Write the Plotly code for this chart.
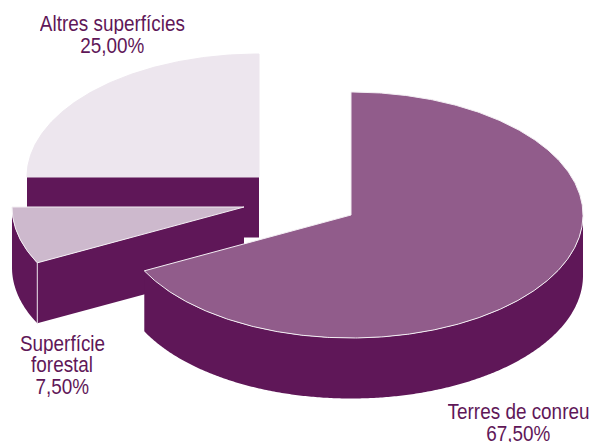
import numpy as np
import plotly.graph_objects as go

categories = ["Terres de conreu", "Superfície forestal", "Altres superfícies"]
label_lines = [["Terres de conreu", "67,50%"], ["Superfície", "forestal", "7,50%"], ["Altres superfícies", "25,00%"]]
values = [67.5, 7.5, 25.0]
face_colors = ["#915c8b", "#cdb9cd", "#ede6ee"]
edge_colors = ["#f3eef3", "#f3eef3", "#ede6ee"]
wall_color = "#5f1758"

W, H = 589, 442
RX, RY, DEPTH = 232.0, 123.0, 60.5
centres = [(351.0, 215.0), (244.0, 207.0), (259.0, 177.0)]
label_pos = [(518, 433), (62, 386), (112, 45)]
FONT = "Liberation Sans, Arial, sans-serif"
FONT_SIZE = 22
LINE_GAP = 21.5
NARROW = 0.86


def pt(c, deg, dz=0.0):
    t = np.radians(deg)
    return c[0] + RX * np.sin(t), c[1] - RY * np.cos(t) + dz


def arc(c, a0, a1, dz=0.0):
    n = max(2, int(abs(a1 - a0) * 2))
    a = np.linspace(a0, a1, n)
    x, y = pt(c, a, dz)
    return list(x), list(y)


fig = go.Figure()


def poly(xs, ys, fill, line=None, width=0.0):
    fig.add_trace(go.Scatter(
        x=xs + xs[:1], y=ys + ys[:1], mode="lines" if line else "none",
        fill="toself", fillcolor=fill,
        line=dict(color=line or fill, width=width), hoverinfo="skip", showlegend=False))


# angle range of each slice, clockwise from 12 o'clock
edges = np.concatenate([[0], np.cumsum(values)]) / sum(values) * 360
order = [2, 1, 0]  # back to front
for i in order:
    c, a0, a1 = centres[i], float(edges[i]), float(edges[i + 1])
    # radial wall that faces the viewer
    if 180 < a0 < 360:
        ex, ey = pt(c, a0)
        poly([c[0], float(ex), float(ex), c[0]],
             [c[1], float(ey), float(ey) + DEPTH, c[1] + DEPTH], wall_color)
    # outer rim on the front half
    f0, f1 = max(a0, 90.0), min(a1, 270.0)
    if f1 > f0:
        ux, uy = arc(c, f0, f1)
        lx, ly = arc(c, f1, f0, DEPTH)
        poly(ux + lx, uy + ly, wall_color)
    # visible vertical edge where the radial wall meets the rim
    if 180 < a0 < 270:
        ex, ey = pt(c, a0)
        fig.add_trace(go.Scatter(x=[float(ex)] * 2, y=[float(ey), float(ey) + DEPTH], mode="lines",
                                 line=dict(color="#e6dce6", width=1), hoverinfo="skip", showlegend=False))
    # top face
    x, y = arc(c, a0, a1)
    poly([c[0]] + x, [c[1]] + y, face_colors[i], edge_colors[i], 1.0)

for lines, (lx, ly) in zip(label_lines, label_pos):
    n = len(lines)
    for k, t in enumerate(lines):
        fig.add_annotation(x=lx, y=ly - (n - 1 - k) * LINE_GAP, text=t, showarrow=False,
                           xanchor="center", yanchor="middle", height=21,
                           font=dict(family=FONT, size=FONT_SIZE, color="#5f1758"))

fig.update_xaxes(range=[0, W], visible=False, fixedrange=True)
fig.update_yaxes(range=[H, 0], visible=False, fixedrange=True)
fig.update_layout(width=W, height=H, margin=dict(l=0, r=0, t=0, b=0),
                  paper_bgcolor="white", plot_bgcolor="white", showlegend=False)

# no condensed face is installed: narrow the real text horizontally
post = """
document.body.style.margin = '0';
document.body.style.overflow = 'hidden';
var gd = document.getElementById('{plot_id}');
gd.querySelectorAll('.annotation-text').forEach(function (t) {
  t.style.transformBox = 'fill-box';
  t.style.transformOrigin = 'center';
  t.style.transform = 'scaleX(%s)';
});
""" % NARROW
fig.write_html("out.html", config={"displayModeBar": False}, post_script=post,
               default_width="%dpx" % W, default_height="%dpx" % H)
